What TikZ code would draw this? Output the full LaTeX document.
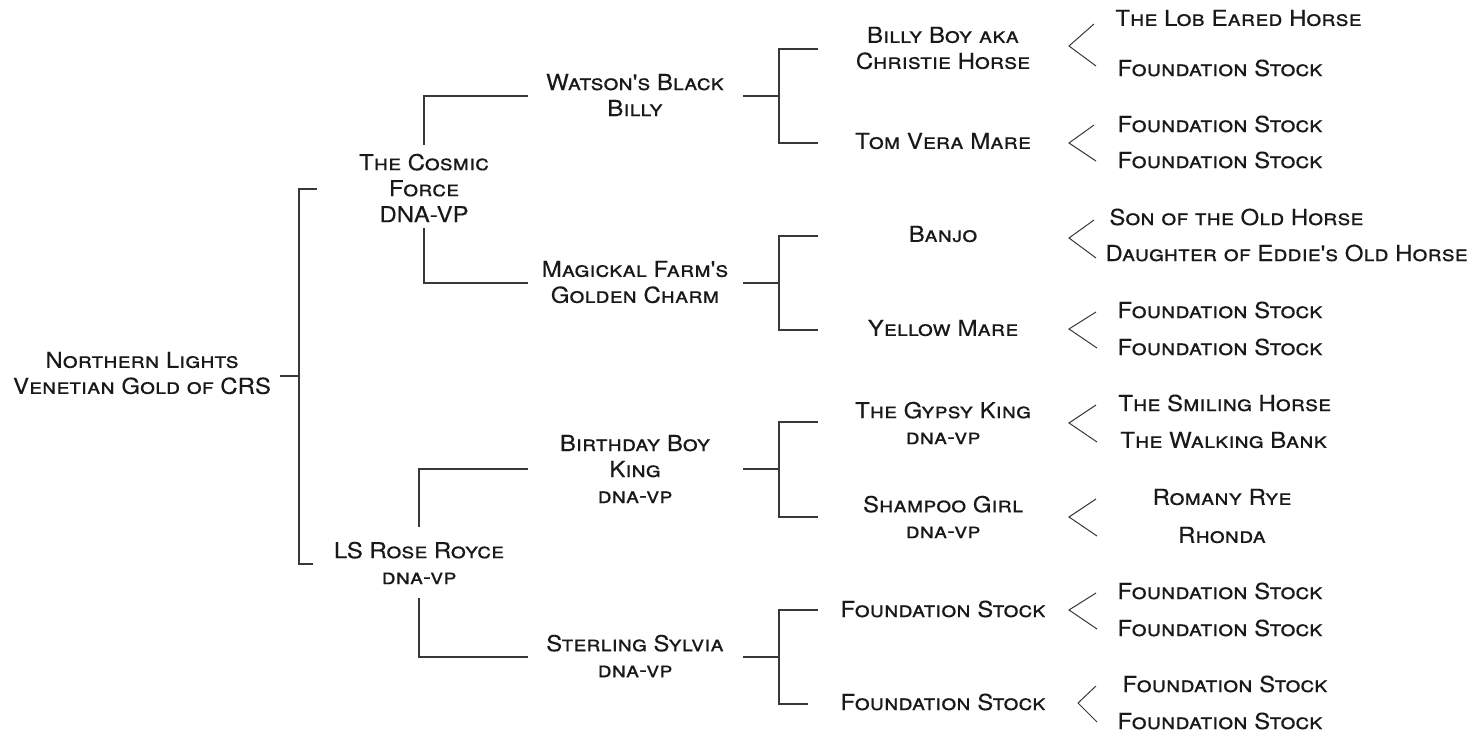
\documentclass[tikz,border=0pt]{standalone}
\usepackage{fontspec}
\newfontfamily\cpfont[Letters=SmallCaps,FakeStretch=1.09,FakeBold=0.25]{TeX Gyre Heros}
\newcommand{\dnasmall}{dna-vp}
\tikzset{
  nm/.style={font=\cpfont\fontsize{11}{13}\selectfont, align=center, inner sep=0pt, text=black!90},
  lf/.style={nm, anchor=west},
  conn/.style={draw=black!78, line width=0.75pt},
  chev/.style={draw=black!78, line width=0.5pt}
}
\begin{document}
\begin{tikzpicture}[x=0.5pt,y=-0.5pt]
\useasboundingbox (0,0) rectangle (1473,733);
% ---------- nodes ----------
\node[nm] (root) at (142,373) {Northern Lights\\Venetian Gold of CRS};
\node[nm] (cosmic) at (424,188) {The Cosmic\\Force\\DNA-VP};
\node[nm] (rose) at (419,563) {LS Rose Royce\\\dnasmall};
\node[nm] (watson) at (635,95) {Watson's Black\\Billy};
\node[nm] (magick) at (635,282) {Magickal Farm's\\Golden Charm};
\node[nm] (birth) at (635,469) {Birthday Boy\\King\\\dnasmall};
\node[nm] (sterl) at (635,656) {Sterling Sylvia\\\dnasmall};
\node[nm] (billy) at (943,48) {Billy Boy aka\\Christie Horse};
\node[nm] (tom) at (943,141) {Tom Vera Mare};
\node[nm] (banjo) at (943,234) {Banjo};
\node[nm] (yellow) at (943,328) {Yellow Mare};
\node[nm] (gypsy) at (943,423) {The Gypsy King\\\dnasmall};
\node[nm] (shampoo) at (943,517) {Shampoo Girl\\\dnasmall};
\node[nm] (fsa) at (943,609) {Foundation Stock};
\node[nm] (fsb) at (943,702) {Foundation Stock};
% right column
\node[lf] (t1) at (1115,18) {The Lob Eared Horse};
\node[lf] (t2) at (1117,68) {Foundation Stock};
\node[lf] (t3) at (1117,124) {Foundation Stock};
\node[lf] (t4) at (1117,160) {Foundation Stock};
\node[lf] (t5) at (1109,217) {Son of the Old Horse};
\node[lf] (t6) at (1105,253) {Daughter of Eddie's Old Horse};
\node[lf] (t7) at (1117,310) {Foundation Stock};
\node[lf] (t8) at (1117,347) {Foundation Stock};
\node[lf] (t9) at (1118,403) {The Smiling Horse};
\node[lf] (t10) at (1120,440) {The Walking Bank};
\node[nm] (t11) at (1222,497) {Romany Rye};
\node[nm] (t12) at (1222,535) {Rhonda};
\node[lf] (t13) at (1117,591) {Foundation Stock};
\node[lf] (t14) at (1117,628) {Foundation Stock};
\node[lf] (t15) at (1122,684) {Foundation Stock};
\node[lf] (t16) at (1117,721) {Foundation Stock};
% ---------- coordinates ----------
\coordinate (r0) at (280,376); \coordinate (r1) at (299,376);
\coordinate (r2) at (317,189); \coordinate (r3) at (299,189);
\coordinate (r4) at (299,564); \coordinate (r5) at (313,564);
\coordinate (c0) at (424,145); \coordinate (c1) at (424,96); \coordinate (c2) at (528,96);
\coordinate (c3) at (424,228); \coordinate (c4) at (424,283); \coordinate (c5) at (528,283);
\coordinate (s0) at (419,527); \coordinate (s1) at (419,469); \coordinate (s2) at (528,469);
\coordinate (s3) at (419,598); \coordinate (s4) at (419,657); \coordinate (s5) at (528,657);
% third-level brackets
\foreach \nm/\y/\t/\b/\e in {w/96/49/143/818, m/283/236/330/818, b/469/422/517/818, v/657/610/704/808}{
  \coordinate (\nm0) at (743,\y); \coordinate (\nm1) at (779,\y);
  \coordinate (\nm2) at (818,\t); \coordinate (\nm3) at (779,\t);
  \coordinate (\nm4) at (779,\b); \coordinate (\nm5) at (\e,\b);
}
% ---------- connectors ----------
\draw[conn] (r0) -- (r1);
\draw[conn] (r2) -- (r3) -- (r4) -- (r5);
\draw[conn] (c0) -- (c1) -- (c2);
\draw[conn] (c3) -- (c4) -- (c5);
\draw[conn] (s0) -- (s1) -- (s2);
\draw[conn] (s3) -- (s4) -- (s5);
\foreach \nm in {w,m,b,v}{
  \draw[conn] (\nm0) -- (\nm1);
  \draw[conn] (\nm2) -- (\nm3) -- (\nm4) -- (\nm5);
}
% chevrons
\foreach \i/\tx/\ty/\ax/\ay/\bx/\by in {
  1/1094/24/1069/46/1096/66,
  2/1094/125/1069/143/1096/161,
  3/1094/220/1069/238/1096/258,
  4/1096/312/1069/329/1097/348,
  5/1096/405/1069/423/1097/442,
  6/1096/499/1069/517/1097/536,
  7/1096/593/1069/610/1097/629,
  8/1096/686/1078/703/1097/722}{
  \coordinate (k\i t) at (\tx,\ty);
  \coordinate (k\i a) at (\ax,\ay);
  \coordinate (k\i b) at (\bx,\by);
  \draw[chev] (k\i t) -- (k\i a) -- (k\i b);
}
\end{tikzpicture}
\end{document}
